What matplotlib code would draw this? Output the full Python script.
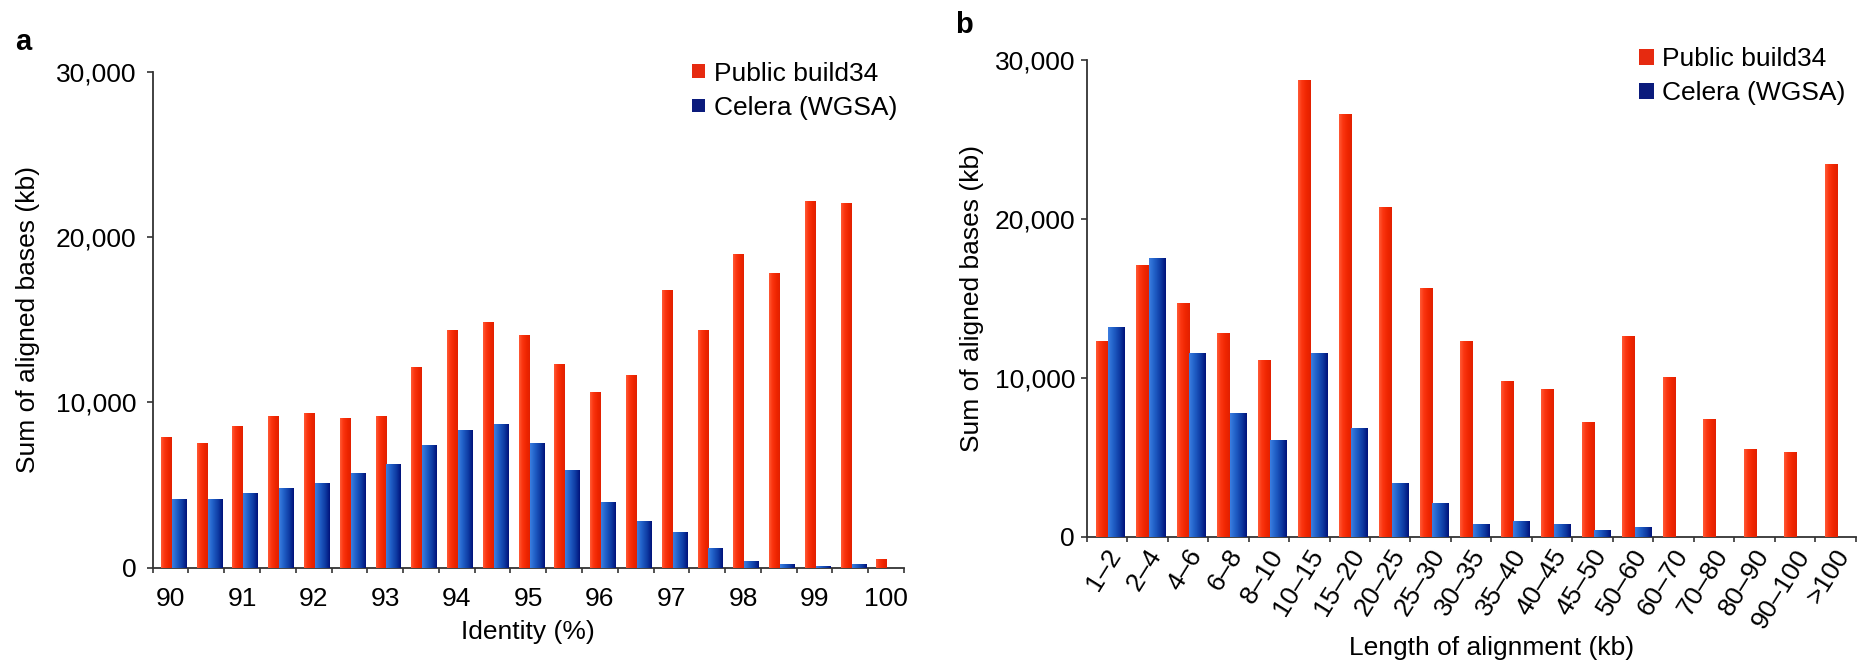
import numpy as np
import matplotlib
matplotlib.use("Agg")
import matplotlib.pyplot as plt
from matplotlib.colors import LinearSegmentedColormap
from matplotlib.patches import Patch
from matplotlib.ticker import NullFormatter
from matplotlib.transforms import ScaledTranslation

plt.rcParams['font.family'] = ['Liberation Sans', 'DejaVu Sans']

# ---- data -------------------------------------------------------------
series_names = ['Public build34', 'Celera (WGSA)']

identity_bins = ['90', '90.5', '91', '91.5', '92', '92.5', '93', '93.5', '94', '94.5',
                 '95', '95.5', '96', '96.5', '97', '97.5', '98', '98.5', '99', '99.5', '100']
identity_tick_labels = ['90', '91', '92', '93', '94', '95', '96', '97', '98', '99', '100']
public_identity = [7900, 7550, 8550, 9200, 9350, 9050, 9200, 12150, 14380, 14850,
                   14050, 12300, 10650, 11650, 16780, 14350, 18950, 17800, 22200, 22050, 550]
celera_identity = [4150, 4150, 4500, 4800, 5100, 5750, 6250, 7400, 8350, 8700,
                   7550, 5900, 3950, 2830, 2180, 1170, 400, 220, 120, 240, 0]

length_bins = ['1\u20132', '2\u20134', '4\u20136', '6\u20138', '8\u201310', '10\u201315',
               '15\u201320', '20\u201325', '25\u201330', '30\u201335', '35\u201340',
               '40\u201345', '45\u201350', '50\u201360', '60\u201370', '70\u201380',
               '80\u201390', '90\u2013100', '>100']
public_length = [12300, 17130, 14700, 12850, 11150, 28730, 26620, 20780, 15680, 12300,
                 9830, 9270, 7220, 12640, 10040, 7390, 5520, 5310, 23460]
celera_length = [13190, 17550, 11550, 7760, 6070, 11550, 6820, 3410, 2110, 800,
                 960, 800, 420, 590, 0, 0, 0, 0, 0]

ytick_values = [0, 10000, 20000, 30000]
ytick_labels = ['0', '10,000', '20,000', '30,000']

# ---- styling ----------------------------------------------------------
W, H = 1862, 665
RED = '#ec2400'
BLUE = '#0e38a0'
LEG_RED = '#e62a10'
LEG_BLUE = '#0b1b7c'
AXC = '#333333'
FS = 19

red_cmap = LinearSegmentedColormap.from_list(
    'red_shade', [(0, '#ff5a36'), (0.3, '#fb3510'), (0.7, '#ee2500'), (1, '#e22000')])
blue_cmap = LinearSegmentedColormap.from_list(
    'blue_shade', [(0, '#3c7ee0'), (0.3, '#2262c9'), (0.7, '#0e3aa2'), (1, '#00127a')])
grad = np.linspace(0, 1, 64).reshape(1, -1)

fig = plt.figure(figsize=(W / 100, H / 100), dpi=100)


def draw_panel(ax, pub, cel):
    n = len(pub)
    x = np.arange(n)
    rb = ax.bar(x - 0.27, pub, width=0.305, align='edge', color=RED,
                linewidth=0, zorder=2)
    bb = ax.bar(x + 0.035, cel, width=0.405, align='edge', color=BLUE,
                linewidth=0, zorder=2)
    for cont, cmap in ((rb, red_cmap), (bb, blue_cmap)):
        for p in cont.patches:
            h = p.get_height()
            if h <= 0:
                continue
            x0, w = p.get_x(), p.get_width()
            im = ax.imshow(grad, cmap=cmap, extent=(x0, x0 + w, 0, h),
                           aspect='auto', zorder=3, interpolation='bilinear')
            im.set_clip_path(p)
    ax.set_xlim(-0.5, n - 0.5)
    ax.set_ylim(0, 30000)
    ax.set_aspect('auto')

    for s in ('top', 'right'):
        ax.spines[s].set_visible(False)
    for s in ('left', 'bottom'):
        ax.spines[s].set_linewidth(1.3)
        ax.spines[s].set_color(AXC)

    # category boundaries carry the tick marks
    ax.set_xticks(np.arange(n + 1) - 0.5)
    ax.xaxis.set_major_formatter(NullFormatter())
    ax.tick_params(axis='x', which='major', direction='out', length=3.6,
                   width=1.2, color=AXC)
    ax.set_yticks(ytick_values, labels=ytick_labels)
    ax.tick_params(axis='y', which='major', direction='out', length=4.3,
                   width=1.2, color=AXC, labelsize=FS)
    return x


# ---- panel a: identity --------------------------------------------------
ax_a = fig.add_axes([152.7 / W, 1 - 567.7 / H, (904 - 152.7) / W, (567.7 - 71.7) / H])
xa = draw_panel(ax_a, public_identity, celera_identity)
ax_a.set_xticks(xa[::2], labels=identity_tick_labels, minor=True)
ax_a.tick_params(axis='x', which='minor', length=0, pad=13.7, labelsize=FS)
ax_a.tick_params(axis='y', pad=7.2)
ax_a.set_xlabel('Identity (%)', fontsize=FS)
ax_a.xaxis.set_label_coords(0.5, -0.129)
ax_a.xaxis.label.set_va('center')
ax_a.set_ylabel('Sum of aligned bases (kb)', fontsize=FS)
ax_a.yaxis.set_label_coords((28.3 - 152.7) / (904 - 152.7), 0.5)
ax_a.yaxis.label.set_va('center')

handles = [Patch(facecolor=LEG_RED, linewidth=0), Patch(facecolor=LEG_BLUE, linewidth=0)]
ax_a.legend(handles, series_names, loc='center left',
            bbox_to_anchor=(692.3 / W, 1 - 90.8 / H), bbox_transform=fig.transFigure,
            frameon=False, fontsize=FS, handlelength=0.5, handleheight=0.42,
            handletextpad=0.31, labelspacing=0.39, borderpad=0, borderaxespad=0)

# ---- panel b: alignment length -------------------------------------------
ax_b = fig.add_axes([1086.7 / W, 1 - 536.7 / H, (1855.7 - 1086.7) / W, (536.7 - 60) / H])
xb = draw_panel(ax_b, public_length, celera_length)
ax_b.set_xticks(xb, labels=length_bins, minor=True)
ax_b.tick_params(axis='x', which='minor', length=0, pad=10.5, labelsize=FS)
ax_b.tick_params(axis='y', pad=4.1)
shift = ScaledTranslation(0.09, 0, fig.dpi_scale_trans)
for lab in ax_b.get_xticklabels(minor=True):
    lab.set_rotation(58)
    lab.set_ha('right')
    lab.set_va('center')
    lab.set_rotation_mode('anchor')
    lab.set_transform(lab.get_transform() + shift)
ax_b.set_xlabel('Length of alignment (kb)', fontsize=FS)
ax_b.xaxis.set_label_coords((1492 - 1086.7) / (1855.7 - 1086.7), -0.2335)
ax_b.xaxis.label.set_va('center')
ax_b.set_ylabel('Sum of aligned bases (kb)', fontsize=FS)
ax_b.yaxis.set_label_coords((971.5 - 1086.7) / (1855.7 - 1086.7), 0.5)
ax_b.yaxis.label.set_va('center')

ax_b.legend(handles, series_names, loc='center left',
            bbox_to_anchor=(1639 / W, 1 - 76.2 / H), bbox_transform=fig.transFigure,
            frameon=False, fontsize=FS, handlelength=0.56, handleheight=0.55,
            handletextpad=0.33, labelspacing=0.39, borderpad=0, borderaxespad=0)

# ---- panel letters ---------------------------------------------------------
fig.text(15 / W, 1 - 50 / H, 'a', fontsize=21, fontweight='bold', ha='left', va='baseline')
fig.text(955 / W, 1 - 33.3 / H, 'b', fontsize=21, fontweight='bold', ha='left', va='baseline')

fig.savefig('out.png', dpi=100)
